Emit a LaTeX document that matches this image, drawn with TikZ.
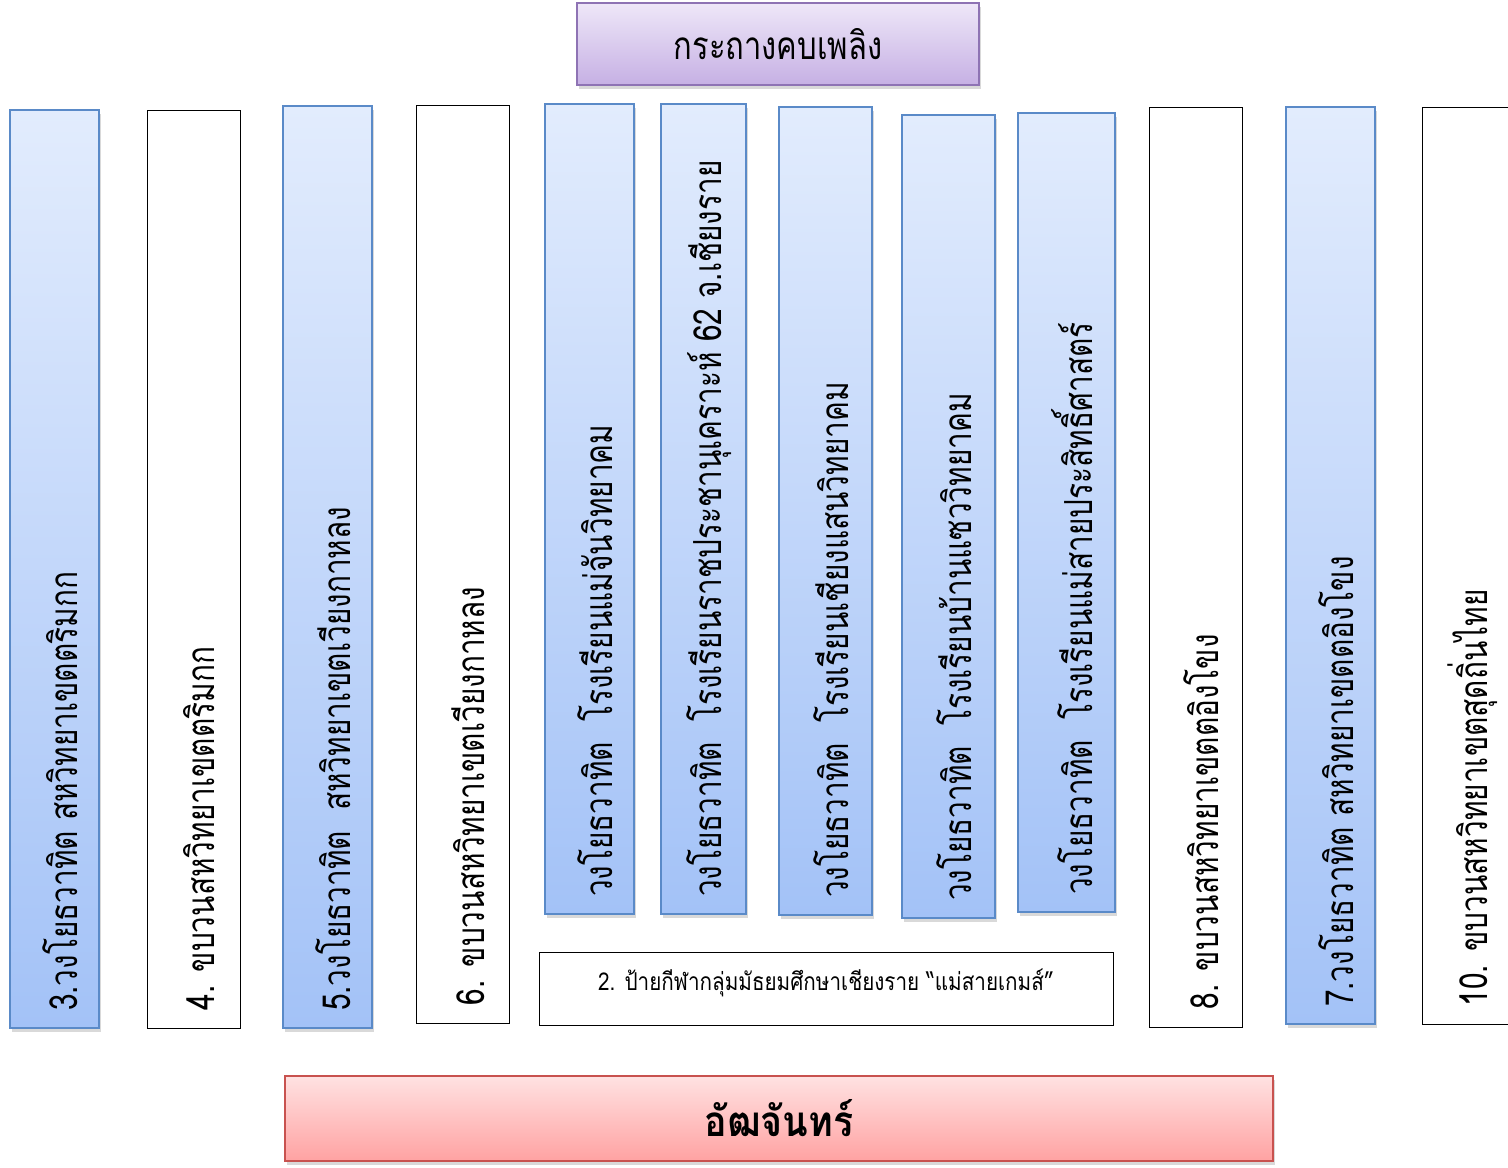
\documentclass[tikz,border=0pt]{standalone}
\usepackage{fontspec}
\newfontfamily\thaifont[Script=Thai,FakeStretch=0.77]{Loma}
\newfontfamily\thaititle[Script=Thai,FakeStretch=0.8]{Loma}
\newfontfamily\thaisign[Script=Thai,FakeStretch=0.84]{Loma}
\newfontfamily\thaistand[Script=Thai,FakeStretch=0.89]{Loma}
\usetikzlibrary{fit,shadows}
\definecolor{bluetop}{HTML}{E2ECFD}
\definecolor{bluebot}{HTML}{A3C2F7}
\definecolor{blueline}{HTML}{5A8AC8}
\definecolor{purptop}{HTML}{EEE7F8}
\definecolor{purpbot}{HTML}{C6B0E4}
\definecolor{purpline}{HTML}{8E73B4}
\definecolor{redtop}{HTML}{FFE2E2}
\definecolor{redbot}{HTML}{FFA2A2}
\definecolor{redline}{HTML}{C8524F}
\tikzset{
  colshadow/.style={drop shadow={opacity=0.3,shadow xshift=1pt,shadow yshift=-2pt}},
  bluebox/.style={draw=blueline,line width=1pt,top color=bluetop,bottom color=bluebot,inner sep=0pt,colshadow},
  whitebox/.style={draw=black,thin,fill=white,inner sep=0pt},
  coltext/.style={rotate=90,anchor=west,inner sep=0pt,font=\thaifont\fontsize{22}{26}\selectfont}
}
\begin{document}
\begin{tikzpicture}[x=0.02cm,y=-0.02cm]
  \useasboundingbox (0,0) rectangle (1508,1167);
  \def\gap{10pt}
  \def\sh{3pt}
  % title
  \node[draw=purpline,line width=1pt,top color=purptop,bottom color=purpbot,inner sep=0pt,colshadow,
        fit={(577,3) (979,85)}] (torch) {};
  \node[font=\thaititle\fontsize{22}{26}\selectfont] (torchtxt) at (torch) {กระถางคบเพลิง};
  % columns
  \node[bluebox,fit={(10,110) (99,1028)}] (c3) {};
  \node[coltext] (t3) at ([yshift=\gap,xshift=\sh]c3.south) {3.วงโยธวาทิต สหวิทยาเขตตริมกก};
  \node[whitebox,fit={(147,110) (240,1028)}] (c4) {};
  \node[coltext] (t4) at ([yshift=\gap,xshift=\sh]c4.south) {4. ขบวนสหวิทยาเขตตริมกก};
  \node[bluebox,fit={(283,106) (372,1028)}] (c5) {};
  \node[coltext] (t5) at ([yshift=\gap,xshift=\sh]c5.south) {5.วงโยธวาทิต~~สหวิทยาเขตเวียงกาหลง};
  \node[whitebox,fit={(416,105) (509,1023)}] (c6) {};
  \node[coltext] (t6) at ([yshift=\gap,xshift=\sh]c6.south) {6. ขบวนสหวิทยาเขตเวียงกาหลง};
  \node[bluebox,fit={(545,104) (634,914)}] (s1) {};
  \node[coltext] (u1) at ([yshift=\gap,xshift=\sh]s1.south) {วงโยธวาทิต~~โรงเรียนแม่จันวิทยาคม};
  \node[bluebox,fit={(661,104) (746,914)}] (s2) {};
  \node[coltext] (u2) at ([yshift=\gap,xshift=\sh]s2.south) {วงโยธวาทิต~~โรงเรียนราชประชานุเคราะห์ 62 จ.เชียงราย};
  \node[bluebox,fit={(779,107) (872,915)}] (s3) {};
  \node[coltext] (u3) at ([yshift=\gap,xshift=\sh]s3.south) {วงโยธวาทิต~~โรงเรียนเชียงแสนวิทยาคม};
  \node[bluebox,fit={(902,115) (995,918)}] (s4) {};
  \node[coltext] (u4) at ([yshift=\gap,xshift=\sh]s4.south) {วงโยธวาทิต~~โรงเรียนบ้านแซววิทยาคม};
  \node[bluebox,fit={(1018,113) (1115,912)}] (s5) {};
  \node[coltext] (u5) at ([yshift=\gap,xshift=\sh]s5.south) {วงโยธวาทิต~~โรงเรียนแม่สายประสิทธิ์ศาสตร์};
  \node[whitebox,fit={(539,952) (1113,1025)}] (sign) {};
  \node[font=\thaisign\fontsize{14}{17}\selectfont] (signtxt) at ([yshift=3pt]sign) {2. ป้ายกีฬากลุ่มมัธยมศึกษาเชียงราย “แม่สายเกมส์”};
  \node[whitebox,fit={(1149,107) (1242,1027)}] (c8) {};
  \node[coltext] (t8) at ([yshift=\gap,xshift=\sh]c8.south) {8. ขบวนสหวิทยาเขตตอิงโขง};
  \node[bluebox,fit={(1286,107) (1375,1024)}] (c7) {};
  \node[coltext] (t7) at ([yshift=\gap,xshift=\sh]c7.south) {7.วงโยธวาทิต สหวิทยาเขตตอิงโขง};
  \node[whitebox,fit={(1422,107) (1530,1024)}] (c10) {};
  \node[coltext] (t10) at ([yshift=\gap,xshift=\sh]c10.south -| 1467,0) {10. ขบวนสหวิทยาเขตสุดถิ่นไทย};
  % stand
  \node[draw=redline,line width=1pt,top color=redtop,bottom color=redbot,inner sep=0pt,colshadow,
        fit={(285,1076) (1273,1161)}] (stand) {};
  \node[font=\thaistand\bfseries\fontsize{24}{28}\selectfont] (standtxt) at (stand) {อัฒจันทร์};
\end{tikzpicture}
\end{document}
